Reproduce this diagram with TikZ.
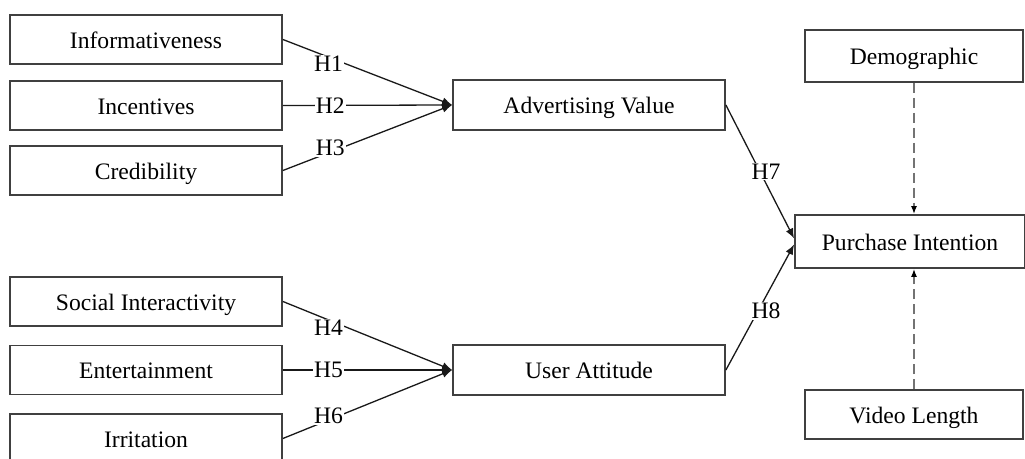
\documentclass[tikz,border=0pt]{standalone}
\usepackage{fontspec}
\setmainfont{Liberation Serif}
\usepackage{xcolor}
\usepackage{tikz}
\usetikzlibrary{arrows.meta}

\begin{document}
\begin{tikzpicture}[x=0.5pt,y=-0.5pt,
		box/.style={draw=black!75,line width=0.9pt,fill=white,inner sep=0pt,
			text height=9pt,text depth=0.2pt,font=\fontsize{11.8}{14}\selectfont},
		hyp/.style={fill=white,inner sep=0.5pt,font=\fontsize{11.8}{14}\selectfont},
		path/.style={draw=black!90,line width=0.65pt,-{Latex[length=5pt,width=4pt]}},
		ctrl/.style={draw=black!55,line width=0.7pt,dash pattern=on 5pt off 2.5pt,
			-{Latex[length=4pt,width=3pt,black]}}]
		\clip (0,0) rectangle (1025,459);
		\fill[white] (0,0) rectangle (1025,459);
		\node[box,minimum width=136pt,minimum height=24.5pt] (inf) at (146,39.5) {Informativeness};
		\node[box,minimum width=136pt,minimum height=24.5pt] (inc) at (146,105.5) {Incentives};
		\node[box,minimum width=136pt,minimum height=24.5pt] (cred) at (146,170.5) {Credibility};
		\node[box,minimum width=136pt,minimum height=24.5pt] (soc) at (146,301.5) {Social Interactivity};
		\node[box,minimum width=136pt,minimum height=24.5pt] (ent) at (146,370) {Entertainment};
		\node[box,minimum width=136pt,minimum height=24.5pt] (irr) at (146,438.5) {Irritation};
		\node[box,minimum width=136pt,minimum height=25pt] (adv) at (589,105) {Advertising Value};
		\node[box,minimum width=136pt,minimum height=25pt] (usr) at (589,370) {User Attitude};
		\node[box,minimum width=109pt,minimum height=26pt] (dem) at (914,56) {Demographic};
		\node[box,minimum width=115pt,minimum height=26.5pt] (pi) at (910,241.5) {Purchase Intention};
		\node[box,minimum width=109pt,minimum height=24.5pt] (vid) at (914,414.5) {Video Length};
		\draw[path] (inf.east) -- node[hyp,pos=0.27,yshift=-3.5pt] {H1} (adv.west);
		\draw[path] (inc.east) -- node[hyp,pos=0.28] {H2} (adv.west);
		\draw[path] (cred.east) -- node[hyp,pos=0.28,yshift=2pt] {H3} (adv.west);
		\draw[path] (soc.east) -- node[hyp,pos=0.27,yshift=-4pt] {H4} (usr.west);
		\draw[path] (ent.east) -- node[hyp,pos=0.27] {H5} (usr.west);
		\draw[path] (irr.east) -- node[hyp,pos=0.27,yshift=2pt] {H6} (usr.west);
		\draw[path] (adv.east) -- node[hyp,pos=0.5,xshift=3pt] {H7} ([yshift=1.5pt]pi.west);
		\draw[path] (usr.east) -- node[hyp,pos=0.5,xshift=3pt,yshift=-2pt] {H8} ([yshift=-1.5pt]pi.west);
		\draw[ctrl] (dem.south) -- (dem.south |- pi.north);
		\draw[ctrl] (vid.north) -- (vid.north |- pi.south);
	\end{tikzpicture}
\end{document}
